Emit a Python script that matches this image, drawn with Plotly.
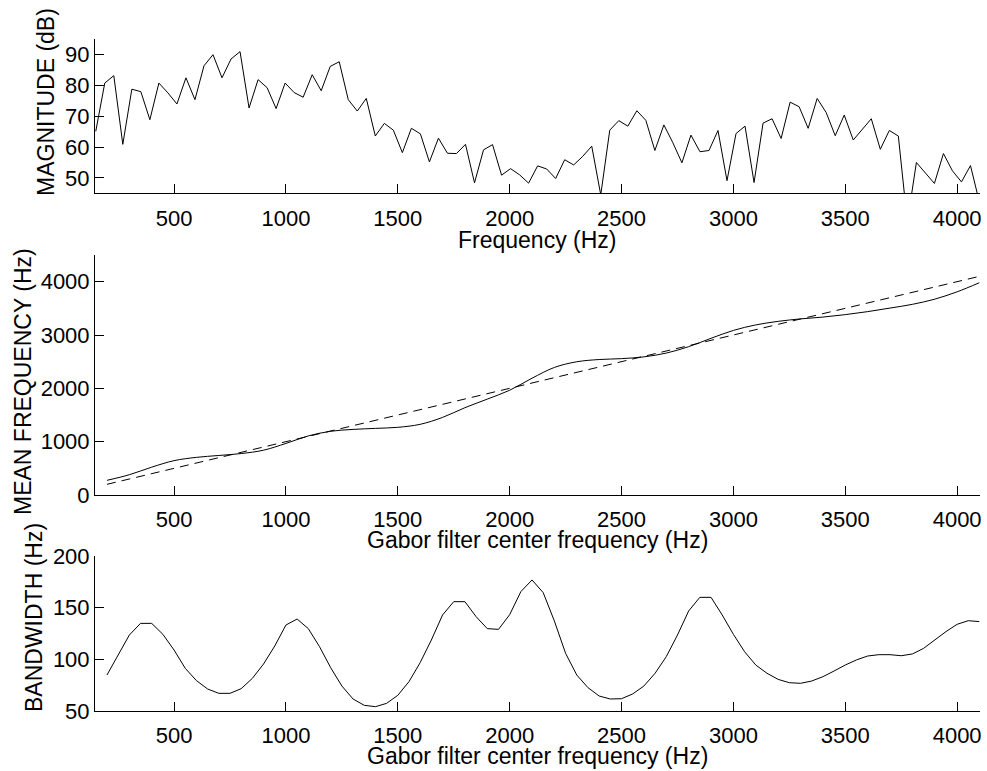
import numpy as np
import plotly.graph_objects as go

# ---------------- data ----------------
# Panel 1: spectrum magnitude (dB) at FFT bins
spec_freq = np.linspace(150, 4100, 99)
spec_db = [65.1, 80.8, 83.2, 60.9, 78.8, 78.0, 68.9, 80.8, 77.6, 74.0,
           82.5, 75.4, 86.4, 90.0, 82.5, 88.6, 91.0, 72.7, 81.9, 79.3,
           72.5, 80.8, 77.7, 76.2, 83.5, 78.3, 86.2, 87.7, 75.4, 71.7,
           75.8, 63.6, 67.7, 65.5, 58.2, 66.1, 64.3, 55.2, 62.9, 58.0,
           57.9, 60.9, 48.4, 59.1, 60.8, 50.9, 53.0, 51.0, 48.3, 53.9,
           52.9, 49.8, 55.9, 54.2, 57.0, 60.3, 44.5, 65.5, 68.6, 66.8,
           71.8, 68.7, 58.9, 67.2, 61.4, 54.9, 63.9, 58.5, 58.9, 65.4,
           49.1, 64.4, 66.8, 48.5, 67.8, 69.2, 62.8, 74.6, 73.1, 66.1,
           75.8, 71.2, 63.7, 70.4, 62.3, 65.9, 69.2, 59.3, 65.4, 63.6,
           35.6, 55.0, 51.6, 48.2, 57.9, 52.3, 48.7, 54.0, 42.0]

# Panel 2: mean frequency vs Gabor filter center frequency
gabor_fc_mean = list(range(200, 4101, 100))
mean_freq = [275, 380, 522, 644, 706, 741, 777, 840, 967, 1108,
             1195, 1230, 1249, 1269, 1325, 1455, 1637, 1798, 1964, 2190,
             2392, 2498, 2540, 2557, 2590, 2661, 2781, 2938, 3086, 3189,
             3256, 3302, 3336, 3382, 3438, 3505, 3575, 3672, 3810, 3981]
ideal_fc = [200, 4100]

# Panel 3: bandwidth vs Gabor filter center frequency
gabor_fc_bw = list(range(200, 4101, 50))
bandwidth = [84.8, 104.0, 123.5, 134.8, 134.8, 124.2, 109.0, 91.3, 79.4, 71.3,
             67.1, 67.1, 71.6, 81.6, 95.5, 112.9, 133.2, 139.0, 129.7, 112.3,
             91.9, 74.2, 61.6, 55.5, 54.2, 57.4, 65.2, 78.4, 96.8, 118.7,
             142.9, 155.8, 155.8, 141.3, 129.7, 129.0, 143.2, 165.5, 176.8, 164.5,
             137.0, 105.8, 84.8, 72.6, 64.5, 61.6, 61.9, 66.5, 74.2, 86.5,
             102.6, 123.5, 146.8, 160.0, 160.0, 142.9, 124.2, 107.4, 94.5, 86.5,
             80.6, 77.4, 76.8, 79.0, 83.2, 88.7, 94.5, 99.4, 103.2, 104.5,
             104.5, 103.5, 105.2, 110.6, 118.7, 126.8, 133.9, 137.4, 136.5]

x_ticks = [500, 1000, 1500, 2000, 2500, 3000, 3500, 4000]
y1_ticks = [50, 60, 70, 80, 90]
y2_ticks = [0, 1000, 2000, 3000, 4000]
y3_ticks = [50, 100, 150, 200]

# ---------------- figure ----------------
W, H = 987, 771
FONT = "Liberation Sans, Arial, Helvetica, sans-serif"
FS = 22
FS_TITLE = 23

def px_x(p):
    return p / W

def px_y(p):
    return 1 - p / H

line = dict(color="black", width=1)

fig = go.Figure()
fig.add_trace(go.Scatter(x=spec_freq, y=spec_db, mode="lines", line=line,
                         xaxis="x", yaxis="y", showlegend=False))
fig.add_trace(go.Scatter(x=gabor_fc_mean, y=mean_freq, mode="lines",
                         line=dict(color="black", width=1, shape="spline"),
                         xaxis="x2", yaxis="y2", showlegend=False))
fig.add_trace(go.Scatter(x=ideal_fc, y=ideal_fc, mode="lines",
                         line=dict(color="black", width=1, dash="9px,6px"),
                         xaxis="x2", yaxis="y2", showlegend=False))
fig.add_trace(go.Scatter(x=gabor_fc_bw, y=bandwidth, mode="lines", line=line,
                         xaxis="x3", yaxis="y3", showlegend=False))

ax = dict(showline=True, linecolor="black", linewidth=1, ticks="inside",
          ticklen=9, tickwidth=1, tickcolor="black", showgrid=False,
          zeroline=False, mirror=False, automargin=False,
          tickfont=dict(family=FONT, size=FS, color="black"))

xdom = [px_x(95), px_x(979.5)]
xr = [146.6, 4100]
fig.update_layout(
    xaxis=dict(ax, domain=xdom, range=xr, tickvals=x_ticks, anchor="y", ticklabelstandoff=5),
    xaxis2=dict(ax, domain=xdom, range=xr, tickvals=x_ticks, anchor="y2", ticklabelstandoff=5),
    xaxis3=dict(ax, domain=xdom, range=xr, tickvals=x_ticks, anchor="y3", ticklabelstandoff=5),
    yaxis=dict(ax, domain=[px_y(193.3), px_y(39.3)], range=[45, 95], tickvals=y1_ticks, anchor="x"),
    yaxis2=dict(ax, domain=[px_y(495), px_y(255)], range=[0, 4500], tickvals=y2_ticks, anchor="x2"),
    yaxis3=dict(ax, domain=[px_y(711), px_y(556)], range=[50, 200], tickvals=y3_ticks, anchor="x3"),
)

tfont = dict(family=FONT, size=FS_TITLE, color="black")
annos = [
    dict(text="Frequency (Hz)", x=px_x(537), y=px_y(240)),
    dict(text="Gabor filter center frequency (Hz)", x=px_x(537), y=px_y(540)),
    dict(text="Gabor filter center frequency (Hz)", x=px_x(537), y=px_y(756)),
    dict(text="MAGNITUDE (dB)", x=px_x(46), y=px_y(102), textangle=-90),
    dict(text="MEAN FREQUENCY (Hz)", x=px_x(23), y=px_y(382), textangle=-90),
    dict(text="BANDWIDTH (Hz)", x=px_x(34), y=px_y(618), textangle=-90),
]
for a in annos:
    a.update(xref="paper", yref="paper", showarrow=False, font=tfont,
             xanchor="center", yanchor="middle")
fig.update_layout(
    annotations=annos,
    width=W, height=H, autosize=False,
    margin=dict(l=0, r=0, t=0, b=0),
    paper_bgcolor="white", plot_bgcolor="white",
    template="none",
    font=dict(family=FONT, size=FS, color="black"),
)

fig.write_html("out.html")
